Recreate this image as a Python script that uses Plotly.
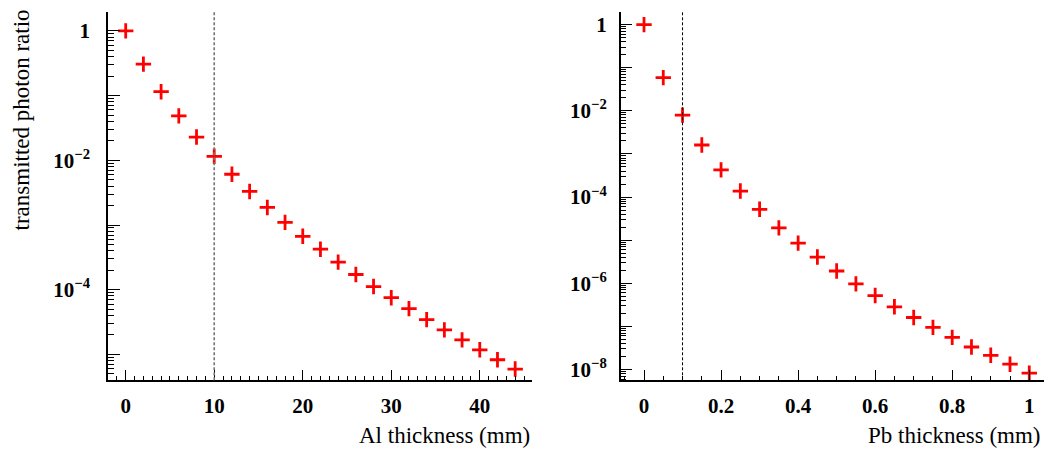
import plotly.graph_objects as go

# ---- data ----
al_thickness = [0, 2, 4, 6, 8, 10, 12, 14, 16, 18, 20, 22, 24, 26, 28, 30, 32, 34, 36, 38, 40, 42, 44]
al_ratio = [1.0, 0.307, 0.115, 0.0487, 0.0229, 0.01153, 0.00609, 0.00330, 0.00187, 0.00110,
            6.70e-4, 4.23e-4, 2.67e-4, 1.72e-4, 1.12e-4, 7.53e-5, 5.10e-5, 3.45e-5, 2.40e-5,
            1.68e-5, 1.18e-5, 8.28e-6, 5.94e-6]
pb_thickness = [0, 0.05, 0.1, 0.15, 0.2, 0.25, 0.3, 0.35, 0.4, 0.45, 0.5, 0.55, 0.6, 0.65, 0.7,
                0.75, 0.8, 0.85, 0.9, 0.95, 1.0]
pb_ratio = [1.0, 0.0589, 0.00794, 1.61e-3, 4.27e-4, 1.38e-4, 5.20e-5, 1.93e-5, 8.55e-6, 4.06e-6,
            1.93e-6, 9.68e-7, 5.20e-7, 2.85e-7, 1.61e-7, 9.48e-8, 5.57e-8, 3.33e-8, 2.14e-8,
            1.33e-8, 8.23e-9]
al_cut = 10
pb_cut = 0.1

al_xticks = [0, 10, 20, 30, 40]
pb_xticks = [0, 0.2, 0.4, 0.6, 0.8, 1.0]
pb_xticktext = ["0", "0.2", "0.4", "0.6", "0.8", "1"]
al_decades = [0, -1, -2, -3, -4, -5]
pb_decades = [0, -1, -2, -3, -4, -5, -6, -7, -8]

x_title_al = "Al thickness (mm)"
x_title_pb = "Pb thickness (mm)"
y_title = "transmitted photon ratio"


def decade_text(d):
    if d == 0:
        return "1"
    if d % 2 == 0:
        return "10<sup>\u2212%d</sup>" % (-d)
    return ""


def minor_vals(decades):
    vals = []
    for d in list(decades) + [min(decades) - 1]:
        for k in range(2, 10):
            vals.append(k * 10.0 ** d)
    return vals


W, H = 1050, 452
tick_font = dict(family="Liberation Serif", size=21, color="black", weight="bold")
title_font = dict(family="Liberation Serif", size=23, color="black")

marker = dict(symbol="cross-thin", size=11, line=dict(color="red", width=2.8), color="red")

fig = go.Figure()
fig.add_trace(go.Scatter(x=al_thickness, y=al_ratio, mode="markers", marker=marker,
                         xaxis="x", yaxis="y", showlegend=False))
fig.add_trace(go.Scatter(x=pb_thickness, y=pb_ratio, mode="markers", marker=marker,
                         xaxis="x2", yaxis="y2", showlegend=False))

ytop = 1 - 12 / H
ybot = 1 - 382 / H

common_x = dict(showline=True, linecolor="black", linewidth=1.5, mirror=False,
                showgrid=False, zeroline=False, ticks="inside", tickcolor="black",
                tickwidth=1.2, ticklen=11, tickfont=tick_font, ticklabelstandoff=6)
common_y = dict(type="log", showline=True, linecolor="black", linewidth=1.5, mirror=False,
                showgrid=False, zeroline=False, ticks="inside", tickcolor="black",
                tickwidth=1.2, ticklen=12, tickfont=tick_font)

fig.update_layout(
    width=W, height=H,
    margin=dict(l=0, r=0, t=0, b=0),
    paper_bgcolor="white", plot_bgcolor="white",
    xaxis=dict(domain=[108 / W, 532 / W], range=[-2, 45.9], anchor="y",
               tickmode="array", tickvals=al_xticks,
               minor=dict(ticks="inside", dtick=1, ticklen=5, tickcolor="black", tickwidth=1.2),
               **common_x),
    yaxis=dict(domain=[ybot, ytop], range=[-5.4, 0.293], anchor="x",
               tickmode="array", tickvals=[10.0 ** d for d in al_decades],
               ticktext=[decade_text(d) for d in al_decades], ticklabelstandoff=12,
               minor=dict(ticks="inside", tickmode="array", tickvals=minor_vals(al_decades),
                          ticklen=6, tickcolor="black", tickwidth=1.2),
               **common_y),
    xaxis2=dict(domain=[620.7 / W, 1044.3 / W], range=[-0.0605, 1.039], anchor="y2",
                tickmode="array", tickvals=pb_xticks, ticktext=pb_xticktext,
                minor=dict(ticks="inside", dtick=0.05, ticklen=5, tickcolor="black", tickwidth=1.2),
                **common_x),
    yaxis2=dict(domain=[ybot, ytop], range=[-8.25, 0.293], anchor="x2",
                tickmode="array", tickvals=[10.0 ** d for d in pb_decades],
                ticktext=[decade_text(d) for d in pb_decades], ticklabelstandoff=8,
                minor=dict(ticks="inside", tickmode="array", tickvals=minor_vals(pb_decades),
                           ticklen=6, tickcolor="black", tickwidth=1.2),
                **common_y),
)

fig.add_shape(type="line", xref="x", yref="y domain", x0=al_cut, x1=al_cut, y0=0, y1=1,
              line=dict(color="#777777", width=1.6, dash="3px,2px"))
fig.add_shape(type="line", xref="x2", yref="y2 domain", x0=pb_cut, x1=pb_cut, y0=0, y1=1,
              line=dict(color="black", width=1, dash="3px,2px"))

fig.add_annotation(text=x_title_al, xref="paper", yref="paper", x=531.7 / W, y=1 - 437 / H,
                   xanchor="right", yanchor="middle", showarrow=False, font=title_font)
fig.add_annotation(text=x_title_pb, xref="paper", yref="paper", x=1043 / W, y=1 - 437 / H,
                   xanchor="right", yanchor="middle", showarrow=False, font=title_font)
fig.add_annotation(text=y_title, xref="paper", yref="paper", x=21 / W, y=1 - 8 / H,
                   xanchor="center", yanchor="top", textangle=-90, showarrow=False,
                   font=title_font)

fig.write_html("out.html", config={"displayModeBar": False},
               post_script="document.body.style.margin='0px';document.body.style.padding='0px';")
